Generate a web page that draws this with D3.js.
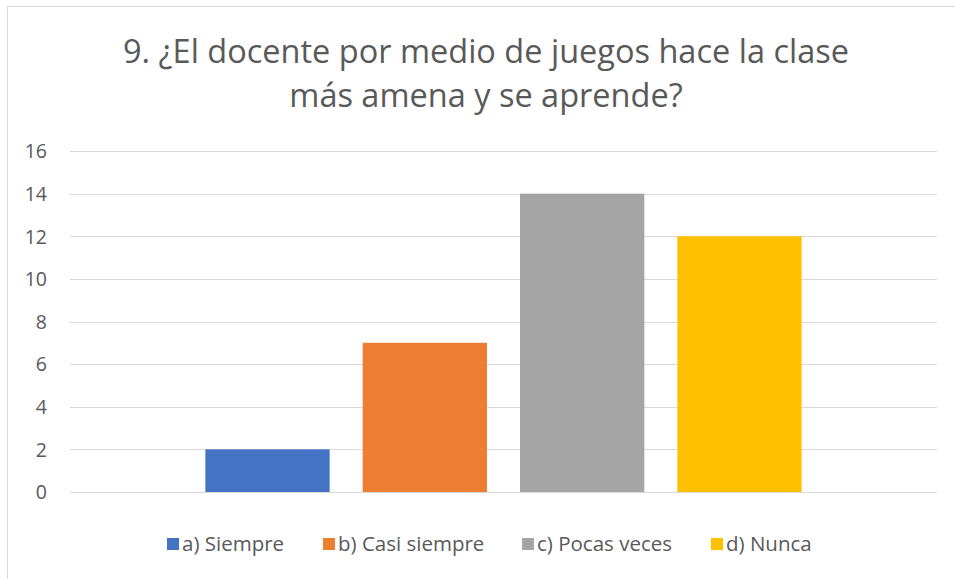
<!DOCTYPE html>
<html>
<head>
<meta charset="utf-8">
<script src="https://cdn.jsdelivr.net/npm/d3@7"></script>
<style>
  body { margin: 0; background: #fff; }
  text { font-family: "Open Sans", "Noto Sans", sans-serif; fill: #595959; }
</style>
</head>
<body>
<div id="chart"></div>
<script>
// data
const titleLines = ["9. ¿El docente por medio de juegos hace la clase", "más amena y se aprende?"];
const category = ["9"];
const seriesNames = ["a) Siempre", "b) Casi siempre", "c) Pocas veces", "d) Nunca"];
const seriesValues = [2, 7, 14, 12];
const seriesColors = ["#4472c4", "#ed7d31", "#a5a5a5", "#ffc000"];
const yTicks = [0, 2, 4, 6, 8, 10, 12, 14, 16];

const width = 955, height = 579;
const margin = {top: 151, right: 18, bottom: 87, left: 70};
const innerW = width - margin.left - margin.right;
const innerH = height - margin.top - margin.bottom;

const svg = d3.select("#chart").append("svg")
  .attr("width", width)
  .attr("height", height);

// chart border (Excel chart area)
svg.append("rect")
  .attr("x", 7.5).attr("y", 6.5)
  .attr("width", width).attr("height", height)
  .attr("fill", "none")
  .attr("stroke", "#d9d9d9");

const g = svg.append("g").attr("transform", `translate(${margin.left},${margin.top})`);

const y = d3.scaleLinear().domain([0, 16]).range([innerH, 0]);
const x0 = d3.scaleBand().domain(category).range([0, innerW]).paddingInner(0).paddingOuter(0.227);
const x1 = d3.scaleBand().domain(seriesNames).range([0, x0.bandwidth()]).paddingInner(0.21).paddingOuter(0);

// gridlines
g.append("g").selectAll("line").data(yTicks).join("line")
  .attr("x1", 0).attr("x2", innerW)
  .attr("y1", d => Math.round(y(d)) + 0.5).attr("y2", d => Math.round(y(d)) + 0.5)
  .attr("stroke", "#d9d9d9").attr("stroke-width", 1.2);

// y axis labels
const yAxis = g.append("g")
  .call(d3.axisLeft(y).tickValues(yTicks).tickSize(0).tickPadding(23));
yAxis.select(".domain").remove();
yAxis.selectAll("text").style("font-size", "19.5px").attr("fill", "#595959").attr("dy", "0.35em");

// bars
const data = seriesNames.map((s, i) => ({cat: category[0], s, v: seriesValues[i], c: seriesColors[i]}));
g.append("g").selectAll("rect").data(data).join("rect")
  .attr("x", d => x0(d.cat) + x1(d.s))
  .attr("y", d => y(d.v))
  .attr("width", x1.bandwidth())
  .attr("height", d => y(0) - y(d.v))
  .attr("fill", d => d.c);

// title
svg.append("g").selectAll("text").data(titleLines).join("text")
  .attr("x", 486).attr("y", (d, i) => 63 + i * 44)
  .attr("text-anchor", "middle")
  .style("font-size", "32.5px")
  .text(d => d);

// legend
const legendX = [167, 323, 522, 711];
const lg = svg.append("g").selectAll("g").data(seriesNames).join("g")
  .attr("transform", (d, i) => `translate(${legendX[i]},538)`);
lg.append("rect").attr("width", 12).attr("height", 12).attr("fill", (d, i) => seriesColors[i]);
lg.append("text").attr("x", 15).attr("y", 13).style("font-size", "20.5px").text(d => d);
</script>
</body>
</html>
